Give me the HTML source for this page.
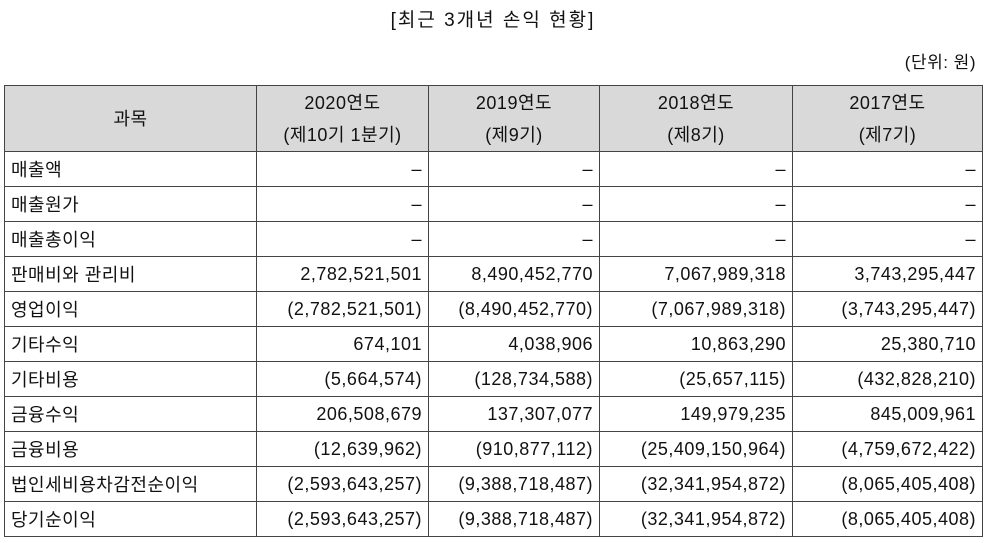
<!DOCTYPE html>
<html><head><meta charset="utf-8">
<style>
html,body{margin:0;padding:0;background:#fff;width:986px;height:543px;overflow:hidden;}
body{font-family:"Liberation Sans","Noto Sans CJK KR","NanumGothic",sans-serif;color:#111;position:relative;}
.title{position:absolute;left:0;width:986px;top:5px;text-align:center;font-size:19px;letter-spacing:2px;}
.unit{position:absolute;right:10px;top:48px;font-size:17px;letter-spacing:0.5px;}
table{position:absolute;left:4px;top:85px;border-collapse:collapse;table-layout:fixed;width:978px;}
td,th{border:1px solid #444;font-size:18px;font-weight:normal;height:34px;padding:0 6px;white-space:nowrap;letter-spacing:0.5px;}
th{background:#d9d9d9;text-align:center;line-height:32px;height:65px;}
td{text-align:right;}
td.l{text-align:left;padding-left:6px;}
</style></head><body>
<div class="title">[최근 3개년 손익 현황]</div>
<div class="unit">(단위: 원)</div>
<table>
<colgroup><col style="width:252px"><col style="width:172px"><col style="width:171px"><col style="width:193px"><col style="width:190px"></colgroup>
<tr>
<th>과목</th>
<th>2020연도<br>(제10기 1분기)</th>
<th>2019연도<br>(제9기)</th>
<th>2018연도<br>(제8기)</th>
<th>2017연도<br>(제7기)</th>
</tr>
<tr><td class="l">매출액</td><td>–</td><td>–</td><td>–</td><td>–</td></tr>
<tr><td class="l">매출원가</td><td>–</td><td>–</td><td>–</td><td>–</td></tr>
<tr><td class="l">매출총이익</td><td>–</td><td>–</td><td>–</td><td>–</td></tr>
<tr><td class="l">판매비와 관리비</td><td>2,782,521,501</td><td>8,490,452,770</td><td>7,067,989,318</td><td>3,743,295,447</td></tr>
<tr><td class="l">영업이익</td><td>(2,782,521,501)</td><td>(8,490,452,770)</td><td>(7,067,989,318)</td><td>(3,743,295,447)</td></tr>
<tr><td class="l">기타수익</td><td>674,101</td><td>4,038,906</td><td>10,863,290</td><td>25,380,710</td></tr>
<tr><td class="l">기타비용</td><td>(5,664,574)</td><td>(128,734,588)</td><td>(25,657,115)</td><td>(432,828,210)</td></tr>
<tr><td class="l">금융수익</td><td>206,508,679</td><td>137,307,077</td><td>149,979,235</td><td>845,009,961</td></tr>
<tr><td class="l">금융비용</td><td>(12,639,962)</td><td>(910,877,112)</td><td>(25,409,150,964)</td><td>(4,759,672,422)</td></tr>
<tr><td class="l">법인세비용차감전순이익</td><td>(2,593,643,257)</td><td>(9,388,718,487)</td><td>(32,341,954,872)</td><td>(8,065,405,408)</td></tr>
<tr><td class="l">당기순이익</td><td>(2,593,643,257)</td><td>(9,388,718,487)</td><td>(32,341,954,872)</td><td>(8,065,405,408)</td></tr>
</table>
</body></html>
